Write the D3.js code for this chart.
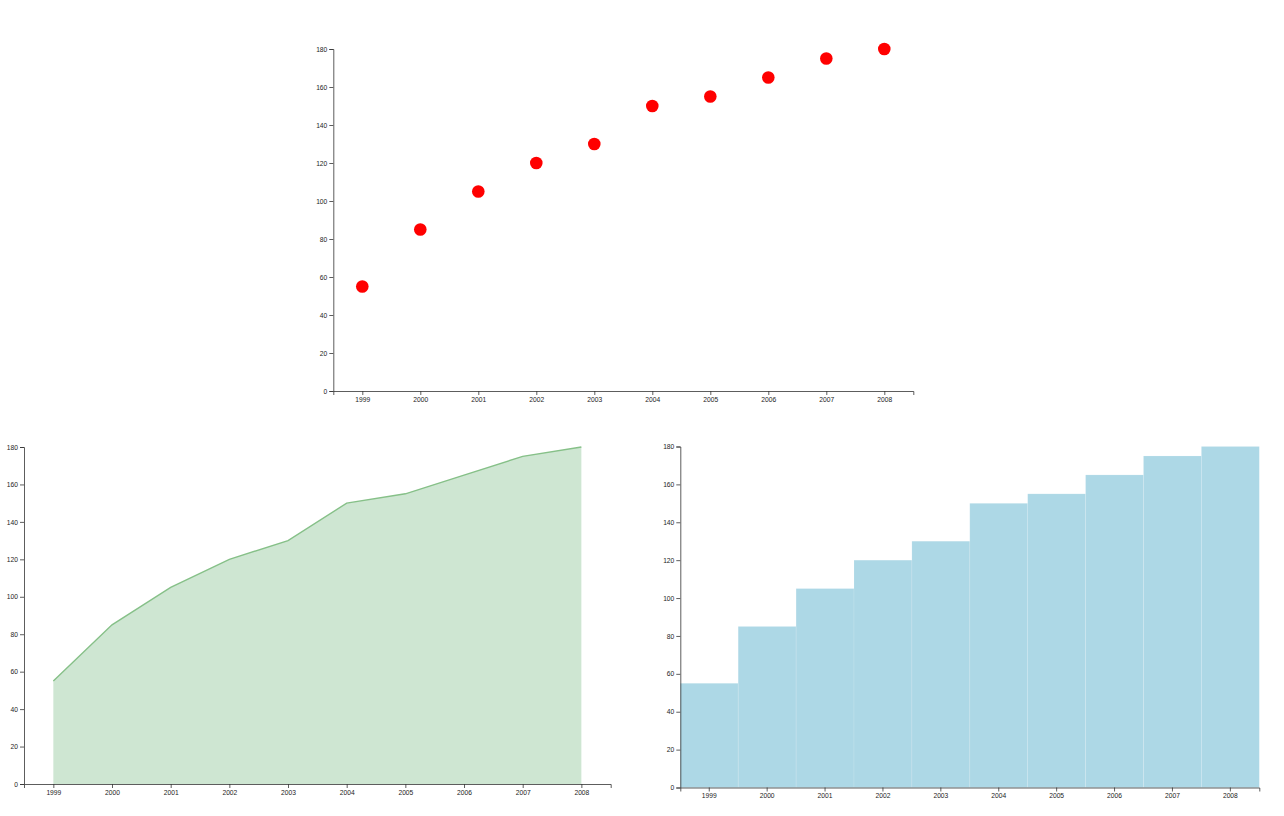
<!DOCTYPE html>
<html>
<head>
<meta charset="utf-8">
<script src="https://d3js.org/d3.v7.min.js"></script>
<style>
  body { margin: 0; background: #fff; }
  .axis text { font-family: "Liberation Sans", Arial, sans-serif; font-size: 6.7px; fill: #222; }
  .axis path, .axis line { stroke: #333; stroke-width: 0.8; }
</style>
</head>
<body>
<svg id="chart" width="1284" height="816"></svg>
<script>
const years = ["1999", "2000", "2001", "2002", "2003", "2004", "2005", "2006", "2007", "2008"];
const values = [55, 85, 105, 120, 130, 150, 155, 165, 175, 180];
const yTicks = [0, 20, 40, 60, 80, 100, 120, 140, 160, 180];

const data = years.map((y, i) => ({ year: y, value: values[i] }));
const svg = d3.select("#chart");

function drawAxes(g, scaleX, scaleY, height) {
    g.append("g")
        .attr("class", "axis axis-x")
        .attr("transform", `translate(0, ${height})`)
        .call(d3.axisBottom(scaleX).tickSize(4).tickPadding(2));
    g.append("g")
        .attr("class", "axis axis-y")
        .call(d3.axisLeft(scaleY).tickValues(yTicks).tickSize(4).tickPadding(2));
}

// scatter (top)
{
    const w = 580, h = 342;
    const g = svg.append("g").attr("transform", "translate(333.3, 49)");
    const x = d3.scalePoint().domain(years).range([0, w]).padding(0.5);
    const y = d3.scaleLinear().domain([0, 180]).range([h, 0]);
    drawAxes(g, x, y, h);
    g.selectAll("circle")
        .data(data)
        .join("circle")
        .attr("cx", d => x(d.year))
        .attr("cy", d => y(d.value))
        .attr("r", 6.3)
        .style("fill", "red");
}

// area (bottom left)
{
    const w = 586.7, h = 337;
    const g = svg.append("g").attr("transform", "translate(24, 447)");
    const x = d3.scalePoint().domain(years).range([0, w]).padding(0.5);
    const y = d3.scaleLinear().domain([0, 180]).range([h, 0]);
    const area = d3.area()
        .x(d => x(d.year))
        .y0(y(0))
        .y1(d => y(d.value));
    const line = d3.line()
        .x(d => x(d.year))
        .y(d => y(d.value));
    g.append("path")
        .datum(data)
        .attr("d", area)
        .style("fill", "#cee6d2");
    g.append("path")
        .datum(data)
        .attr("d", line)
        .style("fill", "none")
        .style("stroke", "#86c088")
        .style("stroke-width", 1.4);
    drawAxes(g, x, y, h);
}

// bars (bottom right)
{
    const w = 579, h = 341;
    const g = svg.append("g").attr("transform", "translate(680.3, 446.5)");
    const x = d3.scaleBand().domain(years).range([0, w]).padding(0);
    const y = d3.scaleLinear().domain([0, 180]).range([h, 0]);
    g.selectAll("rect")
        .data(data)
        .join("rect")
        .attr("x", d => x(d.year))
        .attr("y", d => y(d.value))
        .attr("width", x.bandwidth())
        .attr("height", d => h - y(d.value))
        .style("fill", "lightblue")
        .style("stroke", "#fff")
        .style("stroke-opacity", 0.15)
        .style("stroke-width", 0.8);
    drawAxes(g, x, y, h);
}
</script>
</body>
</html>
